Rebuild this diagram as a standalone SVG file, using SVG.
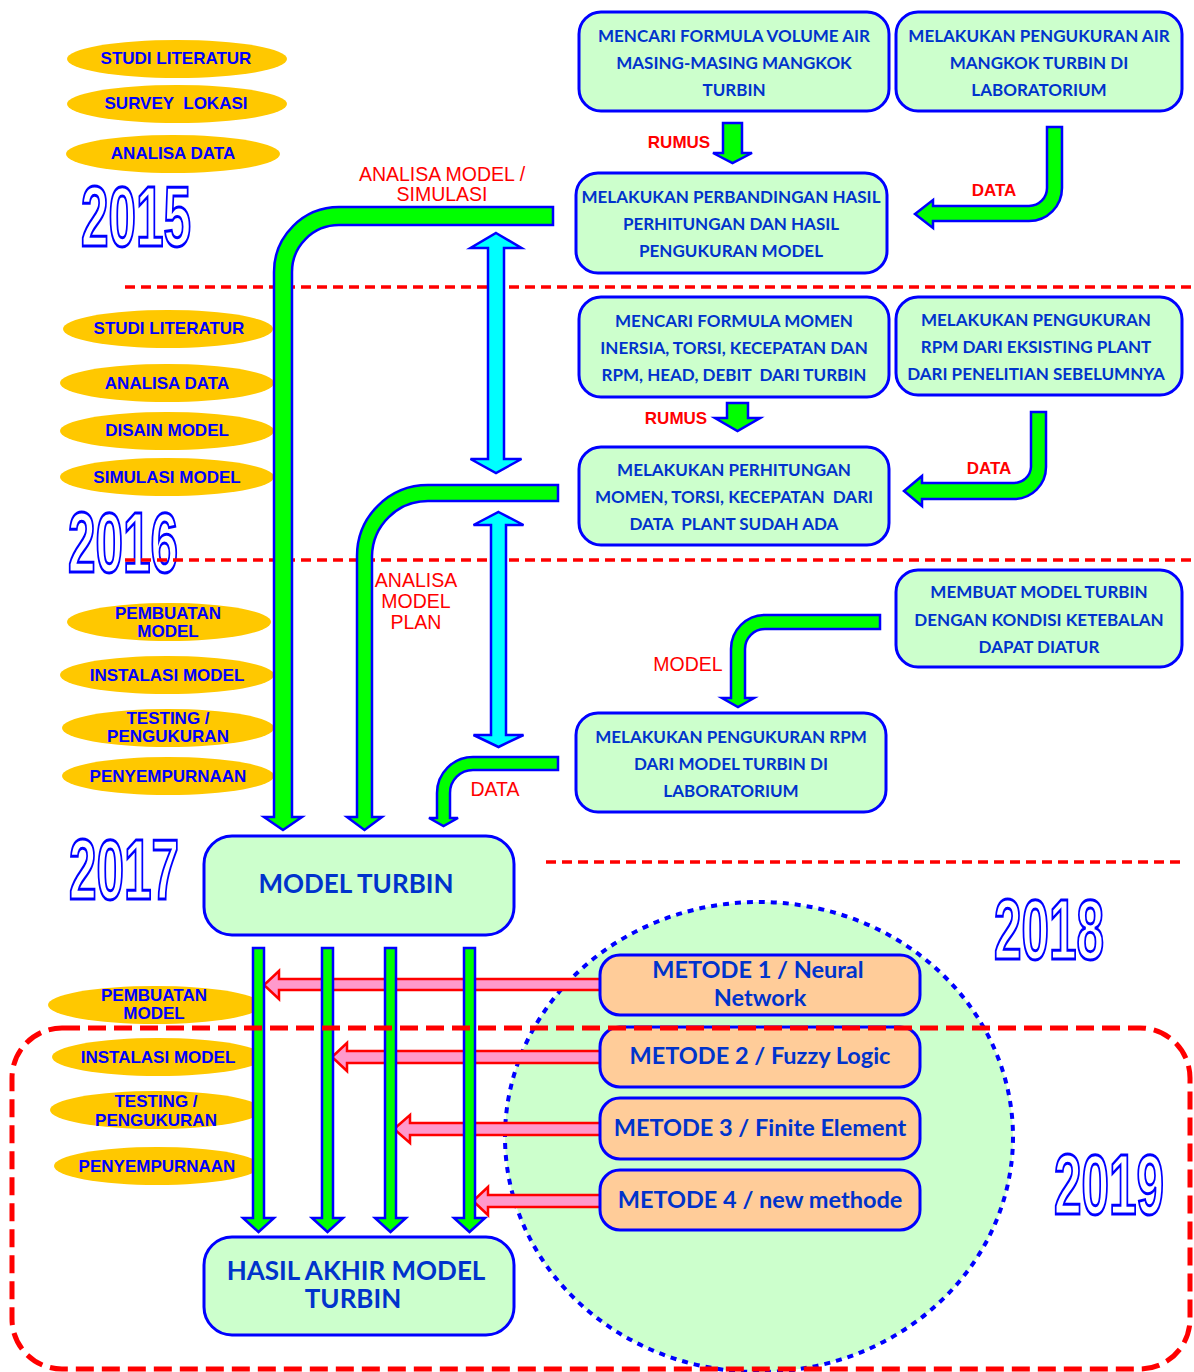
<svg xmlns="http://www.w3.org/2000/svg" width="1194" height="1372" viewBox="0 0 1194 1372">
<style>
.box{fill:#CCFFCC;stroke:#0000FF;stroke-width:3}
.mbox{fill:#FFCC99;stroke:#0000FF;stroke-width:3}
.ell{fill:#FFC800}
.et{font-family:"Liberation Sans",Arial,sans-serif;font-weight:bold;font-size:17px;fill:#0000FF;text-anchor:middle}
.bt{font-family:Lato,"Open Sans",sans-serif;font-weight:bold;font-size:17px;fill:#0033CC;text-anchor:middle}
.mt{font-family:Lato,"Open Sans",sans-serif;font-weight:bold;font-size:23.5px;fill:#0033CC;text-anchor:middle}
.big{font-family:Lato,"Open Sans",sans-serif;font-weight:bold;font-size:26px;fill:#0033CC;text-anchor:middle}
.ga{fill:#00FF00;stroke:#0000FF;stroke-width:2.5}
.ca{fill:#00FFFF;stroke:#0000FF;stroke-width:2.5}
.pa{fill:#FF99CC;stroke:#FF0000;stroke-width:2.5}
.lbl{font-family:"Liberation Sans",Arial,sans-serif;fill:#FF0000;font-size:19.5px;text-anchor:middle}
.lb{font-family:"Liberation Sans",Arial,sans-serif;fill:#FF0000;font-size:17px;font-weight:bold;text-anchor:middle}
.yr{font-family:"Liberation Sans",Arial,sans-serif;font-weight:bold;font-size:86px;fill:#FFFFFF;stroke:#0000FF;stroke-width:3}
.dl{stroke:#FF0000;stroke-width:3.5;stroke-dasharray:10 6;fill:none}
</style>
<rect width="1194" height="1372" fill="#FFFFFF"/>

<g id="years">
<text class="yr" x="81" y="246" textLength="110" lengthAdjust="spacingAndGlyphs">2015</text>
<text class="yr" x="68" y="572" textLength="110" lengthAdjust="spacingAndGlyphs">2016</text>
<text class="yr" x="69" y="899" textLength="110" lengthAdjust="spacingAndGlyphs">2017</text>
<text class="yr" x="994" y="959" textLength="110" lengthAdjust="spacingAndGlyphs">2018</text>
<text class="yr" x="1054" y="1214" textLength="110" lengthAdjust="spacingAndGlyphs">2019</text>
</g>

<g id="dividers">
<line class="dl" x1="125" y1="287" x2="1194" y2="287"/>
<line class="dl" x1="125" y1="560" x2="1194" y2="560"/>
<line class="dl" x1="546" y1="862" x2="1182" y2="862"/>
</g>

<g id="activities">
<g id="a1"><ellipse class="ell" cx="177" cy="59" rx="110" ry="19"/><text class="et" x="176" y="64">STUDI LITERATUR</text></g>
<g id="a2"><ellipse class="ell" cx="177" cy="104" rx="110" ry="19"/><text class="et" x="176" y="109" xml:space="preserve">SURVEY  LOKASI</text></g>
<g id="a3"><ellipse class="ell" cx="173" cy="154" rx="107" ry="19"/><text class="et" x="173" y="159">ANALISA DATA</text></g>
<g id="a4"><ellipse class="ell" cx="168" cy="329" rx="105" ry="19"/><text class="et" x="169" y="334">STUDI LITERATUR</text></g>
<g id="a5"><ellipse class="ell" cx="167" cy="383" rx="107" ry="19"/><text class="et" x="167" y="389">ANALISA DATA</text></g>
<g id="a6"><ellipse class="ell" cx="167" cy="431" rx="107" ry="19"/><text class="et" x="167" y="436">DISAIN MODEL</text></g>
<g id="a7"><ellipse class="ell" cx="167" cy="477" rx="107" ry="19"/><text class="et" x="167" y="483">SIMULASI MODEL</text></g>
<g id="a8"><ellipse class="ell" cx="169" cy="622" rx="102" ry="19"/><text class="et" x="168" y="619">PEMBUATAN</text><text class="et" x="168" y="637">MODEL</text></g>
<g id="a9"><ellipse class="ell" cx="167" cy="675" rx="107" ry="19"/><text class="et" x="167" y="681">INSTALASI MODEL</text></g>
<g id="a10"><ellipse class="ell" cx="168" cy="728" rx="106" ry="19"/><text class="et" x="168" y="724">TESTING /</text><text class="et" x="168" y="742">PENGUKURAN</text></g>
<g id="a11"><ellipse class="ell" cx="168" cy="776" rx="106" ry="19"/><text class="et" x="168" y="782">PENYEMPURNAAN</text></g>
<g id="a12"><ellipse class="ell" cx="155" cy="1005" rx="107" ry="19"/><text class="et" x="154" y="1001">PEMBUATAN</text><text class="et" x="154" y="1019">MODEL</text></g>
<g id="a13"><ellipse class="ell" cx="158" cy="1057" rx="106" ry="19"/><text class="et" x="158" y="1063">INSTALASI MODEL</text></g>
<g id="a14"><ellipse class="ell" cx="156" cy="1110" rx="106" ry="19"/><text class="et" x="156" y="1107">TESTING /</text><text class="et" x="156" y="1126">PENGUKURAN</text></g>
<g id="a15"><ellipse class="ell" cx="157" cy="1166" rx="103" ry="19"/><text class="et" x="157" y="1172">PENYEMPURNAAN</text></g>
</g>

<g id="methods-area">
<ellipse cx="759" cy="1137" rx="254" ry="235" fill="#CCFFCC" stroke="#0000FF" stroke-width="4" stroke-dasharray="6 6"/>
</g>

<g id="connectors">
<polygon class="pa" points="605,979 279,979 279,971 264,985 279,999 279,990 605,990"/>
<polygon class="pa" points="605,1051 347,1051 347,1043 332,1057 347,1071 347,1063 605,1063"/>
<polygon class="pa" points="605,1123 410,1123 410,1115 394,1129 410,1143 410,1135 605,1135"/>
<polygon class="pa" points="605,1195 488,1195 488,1187 473,1201 488,1215 488,1207 605,1207"/>
<polygon class="ga" points="253,948 264,948 264,1218 274,1218 258.5,1232 243,1218 253,1218"/>
<polygon class="ga" points="322,948 333,948 333,1218 343,1218 327.5,1232 312,1218 322,1218"/>
<polygon class="ga" points="385,948 396,948 396,1218 406,1218 390.5,1232 375,1218 385,1218"/>
<polygon class="ga" points="464,948 475,948 475,1218 485,1218 469.5,1232 454,1218 464,1218"/>
<polygon class="ga" points="723,123 742,123 742,153 752,153 732.5,163 713,153 723,153"/>
<polygon class="ga" points="727,403 748,403 748,418 760,418 737.5,431 715,418 727,418"/>
<path class="ga" d="M1047,127 L1062,127 L1062,188 A33,33 0 0 1 1029,221 L933,221 L933,228 L915,214 L933,200 L933,206 L1029,206 A18,18 0 0 0 1047,188 Z"/>
<path class="ga" d="M1031,412 L1046,412 L1046,467 A32,32 0 0 1 1014,499 L922,499 L922,506 L904,491 L922,476 L922,483 L1014,483 A17,17 0 0 0 1031,467 Z"/>
<path class="ga" d="M880,615 L765,615 A34,34 0 0 0 731,649 L731,698 L722,698 L738,707 L754,698 L745,698 L745,649 A20,20 0 0 1 765,629 L880,629 Z"/>
<path class="ga" d="M553,207 L339,207 A65,65 0 0 0 274,272 L274,817 L264,817 L283,830 L302,817 L292,817 L292,272 A47,47 0 0 1 339,225 L553,225 Z"/>
<path class="ga" d="M558,485 L428,485 A71,71 0 0 0 357,556 L357,817 L347,817 L364.5,830 L382,817 L372,817 L372,556 A56,56 0 0 1 428,501 L558,501 Z"/>
<path class="ga" d="M558,757 L473,757 A36,36 0 0 0 437,793 L437,818 L429,818 L443.5,826 L458,818 L450,818 L450,793 A23,23 0 0 1 473,770 L558,770 Z"/>
<polygon class="ca" points="496,233 521.5,248 504,248 504,459 521.5,459 496,473 470.5,459 488,459 488,248 470.5,248"/>
<polygon class="ca" points="498.5,512 523.5,525 506,525 506,735 523.5,735 498.5,747 473.5,735 491,735 491,525 473.5,525"/>
<text class="lbl" x="442" y="181">ANALISA MODEL /</text>
<text class="lbl" x="442" y="201">SIMULASI</text>
<text class="lb" x="679" y="148">RUMUS</text>
<text class="lb" x="994" y="196">DATA</text>
<text class="lb" x="676" y="424">RUMUS</text>
<text class="lb" x="989" y="474">DATA</text>
<text class="lbl" x="416" y="587">ANALISA</text>
<text class="lbl" x="416" y="608">MODEL</text>
<text class="lbl" x="416" y="629">PLAN</text>
<text class="lbl" x="688" y="671">MODEL</text>
<text class="lbl" x="495" y="796">DATA</text>
</g>

<g id="nodes">
<g id="n1"><rect class="box" x="579" y="12" width="310" height="99" rx="22"/>
<text class="bt" x="734" y="42">MENCARI FORMULA VOLUME AIR</text><text class="bt" x="734" y="69">MASING-MASING MANGKOK</text><text class="bt" x="734" y="96">TURBIN</text></g>
<g id="n2"><rect class="box" x="896" y="12" width="286" height="99" rx="22"/>
<text class="bt" x="1039" y="42">MELAKUKAN PENGUKURAN AIR</text><text class="bt" x="1039" y="69">MANGKOK TURBIN DI</text><text class="bt" x="1039" y="96">LABORATORIUM</text></g>
<g id="n3"><rect class="box" x="576" y="173" width="311" height="100" rx="22"/>
<text class="bt" x="731" y="203">MELAKUKAN PERBANDINGAN HASIL</text><text class="bt" x="731" y="230">PERHITUNGAN DAN HASIL</text><text class="bt" x="731" y="257">PENGUKURAN MODEL</text></g>
<g id="n4"><rect class="box" x="579" y="297" width="310" height="100" rx="22"/>
<text class="bt" x="734" y="327">MENCARI FORMULA MOMEN</text><text class="bt" x="734" y="354">INERSIA, TORSI, KECEPATAN DAN</text><text class="bt" x="734" y="381" xml:space="preserve">RPM, HEAD, DEBIT  DARI TURBIN</text></g>
<g id="n5"><rect class="box" x="896" y="297" width="286" height="98" rx="22"/>
<text class="bt" x="1036" y="326">MELAKUKAN PENGUKURAN</text><text class="bt" x="1036" y="353">RPM DARI EKSISTING PLANT</text><text class="bt" x="1036" y="380">DARI PENELITIAN SEBELUMNYA</text></g>
<g id="n6"><rect class="box" x="579" y="447" width="310" height="98" rx="22"/>
<text class="bt" x="734" y="476">MELAKUKAN PERHITUNGAN</text><text class="bt" x="734" y="503" xml:space="preserve">MOMEN, TORSI, KECEPATAN  DARI</text><text class="bt" x="734" y="530" xml:space="preserve">DATA  PLANT SUDAH ADA</text></g>
<g id="n7"><rect class="box" x="896" y="570" width="286" height="97" rx="22"/>
<text class="bt" x="1039" y="598">MEMBUAT MODEL TURBIN</text><text class="bt" x="1039" y="626">DENGAN KONDISI KETEBALAN</text><text class="bt" x="1039" y="653">DAPAT DIATUR</text></g>
<g id="n8"><rect class="box" x="576" y="713" width="310" height="99" rx="22"/>
<text class="bt" x="731" y="743">MELAKUKAN PENGUKURAN RPM</text><text class="bt" x="731" y="770">DARI MODEL TURBIN DI</text><text class="bt" x="731" y="797">LABORATORIUM</text></g>
<g id="n9"><rect class="box" x="204" y="836" width="310" height="99" rx="28"/>
<text class="big" x="356" y="893">MODEL TURBIN</text></g>
<g id="n10"><rect class="box" x="204" y="1237" width="310" height="98" rx="28"/>
<text class="big" x="356" y="1280">HASIL AKHIR MODEL</text><text class="big" x="353" y="1308">TURBIN</text></g>
<g id="m1"><rect class="mbox" x="600" y="955" width="320" height="60" rx="20"/>
<text class="mt" x="758" y="978">METODE 1 / Neural</text><text class="mt" x="760" y="1006">Network</text></g>
<g id="m2"><rect class="mbox" x="600" y="1027" width="320" height="60" rx="20"/>
<text class="mt" x="760" y="1064">METODE 2 / Fuzzy Logic</text></g>
<g id="m3"><rect class="mbox" x="600" y="1098" width="320" height="61" rx="20"/>
<text class="mt" x="760" y="1136">METODE 3 / Finite Element</text></g>
<g id="m4"><rect class="mbox" x="600" y="1170" width="320" height="60" rx="20"/>
<text class="mt" x="760" y="1208">METODE 4 / new methode</text></g>
</g>

<g id="period-2019">
<rect x="12" y="1028" width="1178" height="341" rx="50" fill="none" stroke="#FF0000" stroke-width="5" stroke-dasharray="18 8"/>
</g>
</svg>
